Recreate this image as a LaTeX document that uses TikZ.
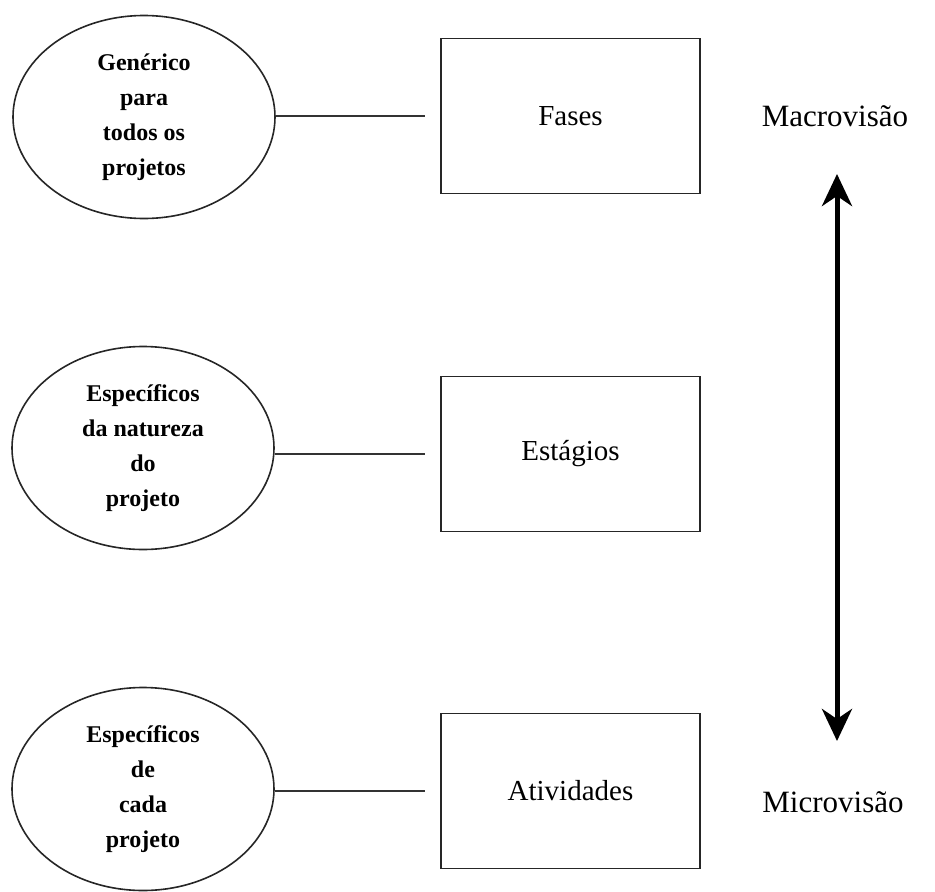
\documentclass[tikz,border=0pt]{standalone}
\usepackage{fontspec}
\setmainfont{Liberation Serif}
\usetikzlibrary{arrows.meta,shapes.geometric}
\begin{document}
\begin{tikzpicture}[x=1pt,y=-1pt,
  scopeoval/.style={draw=black!85, line width=1.6pt, shape=ellipse, minimum width=262pt,
    minimum height=203pt, inner sep=0pt, align=center,
    font=\fontsize{24}{35}\selectfont\bfseries},
  levelbox/.style={draw=black!85, line width=1.6pt, minimum width=259pt, minimum height=155pt,
    inner sep=0pt, font=\fontsize{29}{32}\selectfont},
  link/.style={draw=black!80, line width=1.4pt},
  viewlabel/.style={font=\fontsize{31}{33}\selectfont, inner sep=0pt},
  bigarrow/.style={line width=5pt, {Stealth[length=32pt,width=30pt,inset=10pt]}-{Stealth[length=32pt,width=30pt,inset=10pt]}}
]
\useasboundingbox (0,0) rectangle (935,892);

% scope ellipses on the left
\node[scopeoval] (e1) at (144,117) {Genérico\\para\\todos os\\projetos};
\node[scopeoval] (e2) at (143,448) {Específicos\\da natureza\\do\\projeto};
\node[scopeoval] (e3) at (143,789) {Específicos\\de\\cada\\projeto};

% planning levels
\node[levelbox] (b1) at (570.5,116) {Fases};
\node[levelbox] (b2) at (570.5,454) {Estágios};
\node[levelbox] (b3) at (570.5,791) {Atividades};

% connectors, stopping short of the boxes
\coordinate (c1) at (425,116);
\coordinate (c2) at (425,454);
\coordinate (c3) at (425,791);
\draw[link] (e1.east |- c1) -- (c1);
\draw[link] (e2.east |- c2) -- (c2);
\draw[link] (e3.east |- c3) -- (c3);

% view range
\node[viewlabel] (macro) at (835,116) {Macrovisão};
\node[viewlabel] (micro) at (833,802) {Microvisão};
\coordinate (atop) at (837,174);
\coordinate (abot) at (837,741);
\draw[bigarrow] (atop) -- (abot);
\end{tikzpicture}
\end{document}
